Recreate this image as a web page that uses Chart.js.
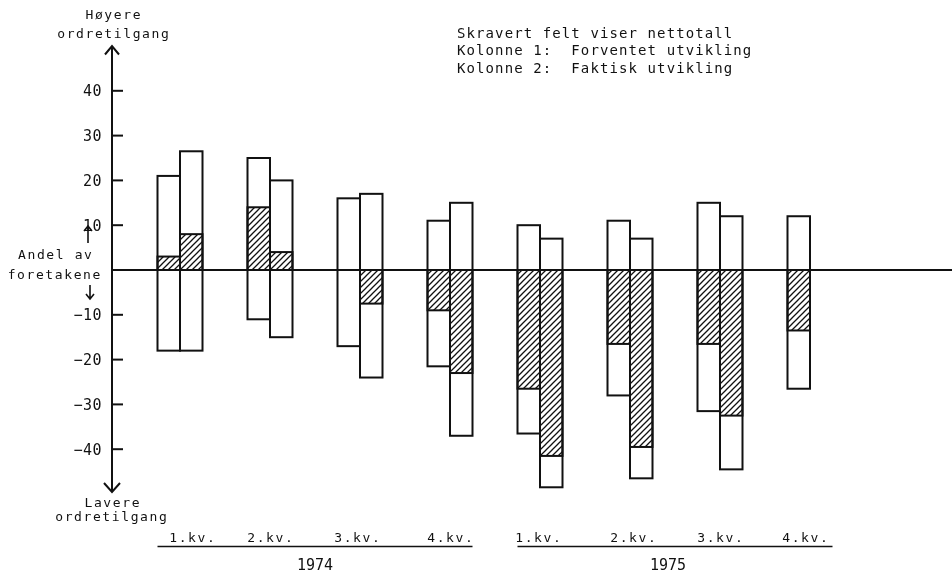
<!DOCTYPE html>
<html><head><meta charset="utf-8">
<script src="https://cdn.jsdelivr.net/npm/chart.js@4"></script>
<style>html,body{margin:0;padding:0;background:#fff}canvas{display:block}</style>
</head><body>
<canvas id="c" width="952" height="573"></canvas>
<script>
// ---- data ----
const quarters = ['1.kv.', '2.kv.', '3.kv.', '4.kv.', '1.kv.', '2.kv.', '3.kv.', '4.kv.'];
const years = ['1974', '1975'];
const expHigh = [21, 25, 16, 11, 10, 11, 15, 12];            // Kolonne 1, høyere
const expLow  = [-18, -11, -17, -21.5, -36.5, -28, -31.5, -26.5]; // Kolonne 1, lavere
const expNet  = [3, 14, 0, -9, -26.5, -16.5, -16.5, -13.5];   // Kolonne 1, netto
const actHigh = [26.5, 20, 17, 15, 7, 7, 12];                // Kolonne 2, høyere
const actLow  = [-18, -15, -24, -37, -48.5, -46.5, -44.5];   // Kolonne 2, lavere
const actNet  = [8, 4, -7.5, -23, -41.5, -39.5, -32.5];      // Kolonne 2, netto
const yTicks = [40, 30, 20, 10, -10, -20, -30, -40];
const legendLines = ['Skravert felt viser nettotall', 'Kolonne 1:  Forventet utvikling', 'Kolonne 2:  Faktisk utvikling'];
const upLabel = ['Høyere', 'ordretilgang'];
const midLabel = ['Andel av', 'foretakene'];
const downLabel = ['Lavere', 'ordretilgang'];

const canvas = document.getElementById('c');
const ctx0 = canvas.getContext('2d');
const INK = '#111111';
const FONT = '"DejaVu Sans Mono", "Liberation Mono", monospace';

function hatchPattern() {
  const c = document.createElement('canvas');
  c.width = 6; c.height = 6;
  const g = c.getContext('2d');
  g.fillStyle = '#fff'; g.fillRect(0, 0, 6, 6);
  g.strokeStyle = INK; g.lineWidth = 1.3;
  g.beginPath();
  g.moveTo(-1, 7); g.lineTo(7, -1);
  g.moveTo(-1, 1); g.lineTo(1, -1);
  g.moveTo(5, 7); g.lineTo(7, 5);
  g.stroke();
  return ctx0.createPattern(c, 'repeat');
}
const hatch = hatchPattern();

const rangeData = (lo, hi) => lo.map((v, i) => ({ x: i, y: [v, hi[i]] }));
const netData = (net) => net.map((v, i) => ({ x: i, y: [0, v] }));

function txt(ctx, s, x, y, size, align, spacing) {
  spacing = spacing || 0;
  ctx.font = size + 'px ' + FONT;
  ctx.textAlign = align;
  ctx.textBaseline = 'alphabetic';
  ctx.letterSpacing = spacing + 'px';
  ctx.fillText(s, x + (align === 'center' ? spacing / 2 : 0), y);
}
function arrow(ctx, x, tail, tip, hw, hh) {
  const d = tip < tail ? 1 : -1;
  ctx.beginPath();
  ctx.moveTo(x, tail); ctx.lineTo(x, tip);
  ctx.moveTo(x - hw, tip + d * hh); ctx.lineTo(x, tip); ctx.lineTo(x + hw, tip + d * hh);
  ctx.stroke();
}

const decor = {
  id: 'decor',
  afterDatasetsDraw(chart) {
    const ctx = chart.ctx, ys = chart.scales.y, area = chart.chartArea;
    ctx.save();
    ctx.strokeStyle = INK;
    ctx.lineWidth = 2;
    const y0 = ys.getPixelForValue(0);
    ctx.beginPath(); ctx.moveTo(area.left, y0); ctx.lineTo(chart.width, y0); ctx.stroke();
    chart.data.datasets.forEach((ds, di) => {
      chart.getDatasetMeta(di).data.forEach(el => {
        const p = el.getProps(['x', 'y', 'base', 'width'], true);
        const t = Math.min(p.y, p.base), h = Math.abs(p.base - p.y);
        ctx.strokeRect(p.x - p.width / 2, t, p.width, h);
      });
    });
    ctx.restore();
  },
  afterDraw(chart) {
    const ctx = chart.ctx, ys = chart.scales.y, xs = chart.scales.x, area = chart.chartArea;
    ctx.save();
    ctx.strokeStyle = INK; ctx.fillStyle = INK;
    ctx.lineWidth = 2; ctx.lineCap = 'butt';
    const ax = area.left;
    // y axis with arrows
    arrow(ctx, ax, area.bottom - 2, area.top, 7, 8.5);
    arrow(ctx, ax, area.top + 2, area.bottom - 2, 8, 9);
    // ticks
    yTicks.forEach(v => {
      const py = ys.getPixelForValue(v);
      ctx.beginPath(); ctx.moveTo(ax, py); ctx.lineTo(ax + 11, py); ctx.stroke();
      txt(ctx, String(v).replace('-', '\u2212'), ax - 10, py + 5.5, 15, 'right', 0.5);
    });
    // axis captions
    txt(ctx, upLabel[0], 113, 18.5, 13, 'center', 1.6);
    txt(ctx, upLabel[1], 113, 37.5, 13, 'center', 1.6);
    txt(ctx, midLabel[0], 55, 258.5, 13, 'center', 1.6);
    txt(ctx, midLabel[1], 54, 278.5, 13, 'center', 1.6);
    txt(ctx, downLabel[0], 112, 507, 13, 'center', 1.6);
    txt(ctx, downLabel[1], 111, 521, 13, 'center', 1.6);
    ctx.lineWidth = 1.6;
    arrow(ctx, 88, 243, 226, 4, 5);
    arrow(ctx, 90, 285, 299, 4, 5);
    // legend text
    legendLines.forEach((s, i) => txt(ctx, s, 457, 38 + i * 17.3, 14, 'left', 1.1));
    // quarter labels
    const shift = [12, 0, -3, 0, -2, 3, 0, -5];
    quarters.forEach((q, i) => txt(ctx, q, xs.getPixelForValue(i) + shift[i], 541.5, 13, 'center', 1.6));
    // year underlines + labels
    ctx.lineWidth = 1.6;
    const yearSpan = [[0, 3], [4, 7]];
    const yearShift = [0, -7];
    const extraRight = [0, 0];
    years.forEach((yr, k) => {
      const a = xs.getPixelForValue(yearSpan[k][0]) - 22.5;
      const b = xs.getPixelForValue(yearSpan[k][1]) + 22.5 + extraRight[k];
      ctx.beginPath(); ctx.moveTo(a, 546.5); ctx.lineTo(b, 546.5); ctx.stroke();
      const c = (xs.getPixelForValue(yearSpan[k][0]) + xs.getPixelForValue(yearSpan[k][1])) / 2 + yearShift[k];
      txt(ctx, yr, c, 570, 15, 'center', 0);
    });
    ctx.restore();
  }
};

const barCommon = { borderWidth: 0, categoryPercentage: 0.5, barPercentage: 1.0 };

new Chart(canvas, {
  type: 'bar',
  data: {
    datasets: [
      Object.assign({ label: 'Kolonne 1 netto', data: netData(expNet), stack: 'k1', order: 0, backgroundColor: hatch }, barCommon),
      Object.assign({ label: 'Kolonne 2 netto', data: netData(actNet), stack: 'k2', order: 0, backgroundColor: hatch }, barCommon),
      Object.assign({ label: 'Kolonne 1: Forventet utvikling', data: rangeData(expLow, expHigh), stack: 'k1', order: 1, backgroundColor: '#ffffff' }, barCommon),
      Object.assign({ label: 'Kolonne 2: Faktisk utvikling', data: rangeData(actLow, actHigh), stack: 'k2', order: 1, backgroundColor: '#ffffff' }, barCommon)
    ]
  },
  options: {
    responsive: false,
    animation: false,
    devicePixelRatio: 1,
    layout: { padding: { left: 112, right: 0, top: 46, bottom: 79 } },
    scales: {
      x: { type: 'linear', min: -0.7556, max: 8.5778, offset: false, display: false, grid: { display: false, offset: false } },
      y: { type: 'linear', min: -50, max: 50, stacked: false, display: false, grid: { display: false } }
    },
    plugins: { legend: { display: false }, tooltip: { enabled: false } }
  },
  plugins: [decor]
});
</script>
</body></html>
